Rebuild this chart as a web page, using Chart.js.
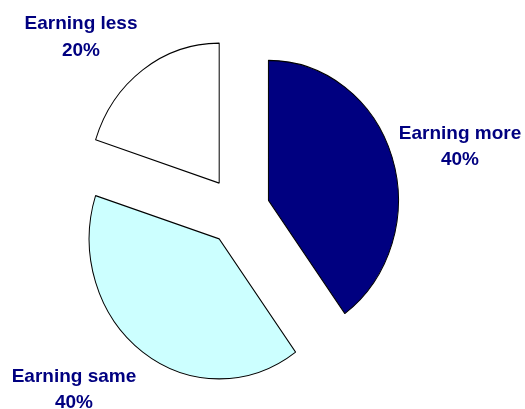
<!DOCTYPE html>
<html>
<head>
<meta charset="utf-8">
<script src="https://cdn.jsdelivr.net/npm/chart.js@4.4.0/dist/chart.umd.min.js"></script>
<style>
  html, body { margin: 0; padding: 0; background: #fff; }
  #wrap { position: relative; width: 525px; height: 409px; }
</style>
</head>
<body>
<div id="wrap"><canvas id="pie"></canvas></div>
<script>
const categories = ['Earning more', 'Earning same', 'Earning less'];
const shares = [40, 40, 20];
const sliceColors = ['#000080', '#CCFFFF', '#FFFFFF'];

// label anchors: centre x, baseline of first line
const labelPos = [[460, 138.5], [74, 381.5], [81, 29]];

const pieRadius = 130;   // horizontal radius
const yStretch = 140 / 130; // pie is a bit taller than wide
const explode = 32;      // distance each slice is pulled out

// draws every arc element pulled out along its mid angle, with the vertical stretch
const explodedPie = {
  id: 'explodedPie',
  beforeDatasetDraw(chart, args) {
    const ctx = chart.ctx;
    args.meta.data.forEach(arc => {
      const mid = (arc.startAngle + arc.endAngle) / 2;
      ctx.save();
      ctx.translate(arc.x, arc.y);
      ctx.scale(1, yStretch);
      ctx.translate(Math.cos(mid) * explode, Math.sin(mid) * explode);
      ctx.translate(-arc.x, -arc.y);
      arc.draw(ctx);
      ctx.restore();
    });
    return false;
  },
  afterDraw(chart) {
    const ctx = chart.ctx;
    ctx.save();
    ctx.fillStyle = '#000080';
    ctx.font = 'bold 19px "Liberation Sans", Arial, sans-serif';
    ctx.textAlign = 'center';
    ctx.textBaseline = 'alphabetic';
    categories.forEach((name, i) => {
      const [x, y] = labelPos[i];
      ctx.fillText(name, x, y);
      ctx.fillText(shares[i] + '%', x, y + 26.5);
    });
    ctx.restore();
  }
};

new Chart(document.getElementById('pie'), {
  type: 'pie',
  data: {
    labels: categories,
    datasets: [{
      data: shares,
      backgroundColor: sliceColors,
      borderColor: '#000000',
      borderWidth: 1
    }]
  },
  options: {
    responsive: true,
    maintainAspectRatio: false,
    animation: false,
    radius: pieRadius,
    layout: { padding: { left: 0, right: 49, top: 13, bottom: 0 } },
    plugins: { legend: { display: false }, tooltip: { enabled: false } }
  },
  plugins: [explodedPie]
});
</script>
</body>
</html>
